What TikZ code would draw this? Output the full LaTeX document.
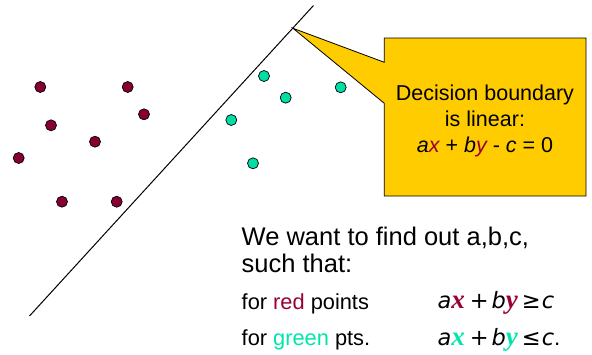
\documentclass[tikz,border=0pt]{standalone}
\usepackage{fontspec}
\setmainfont{Liberation Sans}
\newfontfamily\mathserif{Liberation Serif}
\newfontfamily\dvs{DejaVu Sans}
\definecolor{dotred}{RGB}{136,0,51}
\definecolor{dotgreen}{RGB}{0,222,165}
\definecolor{txtred}{RGB}{153,0,51}
\definecolor{txtgreen}{RGB}{0,230,170}
\definecolor{callout}{RGB}{255,204,0}
\tikzset{
  reddot/.style={circle,draw=black,line width=0.7pt,fill=dotred,minimum size=11pt,inner sep=0pt},
  greendot/.style={circle,draw=black,line width=0.7pt,fill=dotgreen,minimum size=11pt,inner sep=0pt},
  txt/.style={inner sep=0pt,anchor=base west},
  ctxt/.style={inner sep=0pt,anchor=base,font=\fontsize{21.5}{26}\selectfont},
}
\newcommand{\mva}[1]{{\dvs\itshape #1}}
\newcommand{\mvc}[1]{{\dvs\itshape #1}}
\newcommand{\mvx}[1]{{\mathserif\fontsize{27}{30}\selectfont\bfseries\itshape #1}}
\newcommand{\mop}[1]{{\dvs #1}}
\begin{document}
\begin{tikzpicture}[x=1pt,y=-1pt]
\useasboundingbox (0,0) rectangle (592,354);
% boundary line
\coordinate (ltop) at (313.5,5.5);
\coordinate (lbot) at (29.5,316);
\draw[line width=1pt] (ltop) -- (lbot);
% red points
\node[reddot] (r1) at (40.3,87) {};
\node[reddot] (r2) at (127.7,87) {};
\node[reddot] (r3) at (144,114.3) {};
\node[reddot] (r4) at (51,125.3) {};
\node[reddot] (r5) at (95,141.7) {};
\node[reddot] (r6) at (18.7,158) {};
\node[reddot] (r7) at (62,201.7) {};
\node[reddot] (r8) at (116.7,201.7) {};
% green points
\node[greendot] (g1) at (264,76) {};
\node[greendot] (g2) at (285.7,97.7) {};
\node[greendot] (g3) at (231.3,120) {};
\node[greendot] (g4) at (253,163.3) {};
\node[greendot] (g5) at (340.7,87.3) {};
% callout
\coordinate (tip) at (293,28.3);
\draw[fill=callout,line width=0.8pt,line join=miter]
  (384.3,38) -- (586,38) -- (586,196) -- (384.3,196) -- (384.3,103.3) -- (tip) -- (384.3,62.3) -- cycle;
\node[ctxt] (c1) at (485,100) {Decision boundary};
\node[ctxt] (c2) at (485,126.5) {is linear:};
\node[ctxt] (c3) at (485,152) {\itshape a\textcolor{txtred}{x} \upshape+ \itshape b\textcolor{txtred}{y} \upshape- \itshape c \upshape= 0};
% bottom text
\node[txt,font=\fontsize{25.5}{28}\selectfont] (t1) at (241.5,245) {We want to find out a,b,c,};
\node[txt,font=\fontsize{25.5}{28}\selectfont] (t2) at (241.5,272.5) {such that:};
\node[txt,font=\fontsize{21.8}{26}\selectfont] (t3) at (241.5,309) {for \textcolor{txtred}{red} points};
\node[txt,font=\fontsize{21.8}{26}\selectfont] (t4) at (241.5,345) {for \textcolor{txtgreen}{green} pts.};
\node[txt,font=\fontsize{22.5}{26}\selectfont] (m1) at (437.3,308.5) {\mva{a}\mvx{\textcolor{txtred}{x}}\hspace{5pt}\mop{+}\hspace{3pt}\mva{b}\mvx{\textcolor{txtred}{y}}\hspace{4pt}\mop{≥}\hspace{1pt}\mvc{c}};
\node[txt,font=\fontsize{22.5}{26}\selectfont] (m2) at (437.3,345) {\mva{a}\mvx{\textcolor{txtgreen}{x}}\hspace{5pt}\mop{+}\hspace{3pt}\mva{b}\mvx{\textcolor{txtgreen}{y}}\hspace{4pt}\mop{≤}\hspace{1pt}\mvc{c}.};
\end{tikzpicture}
\end{document}
